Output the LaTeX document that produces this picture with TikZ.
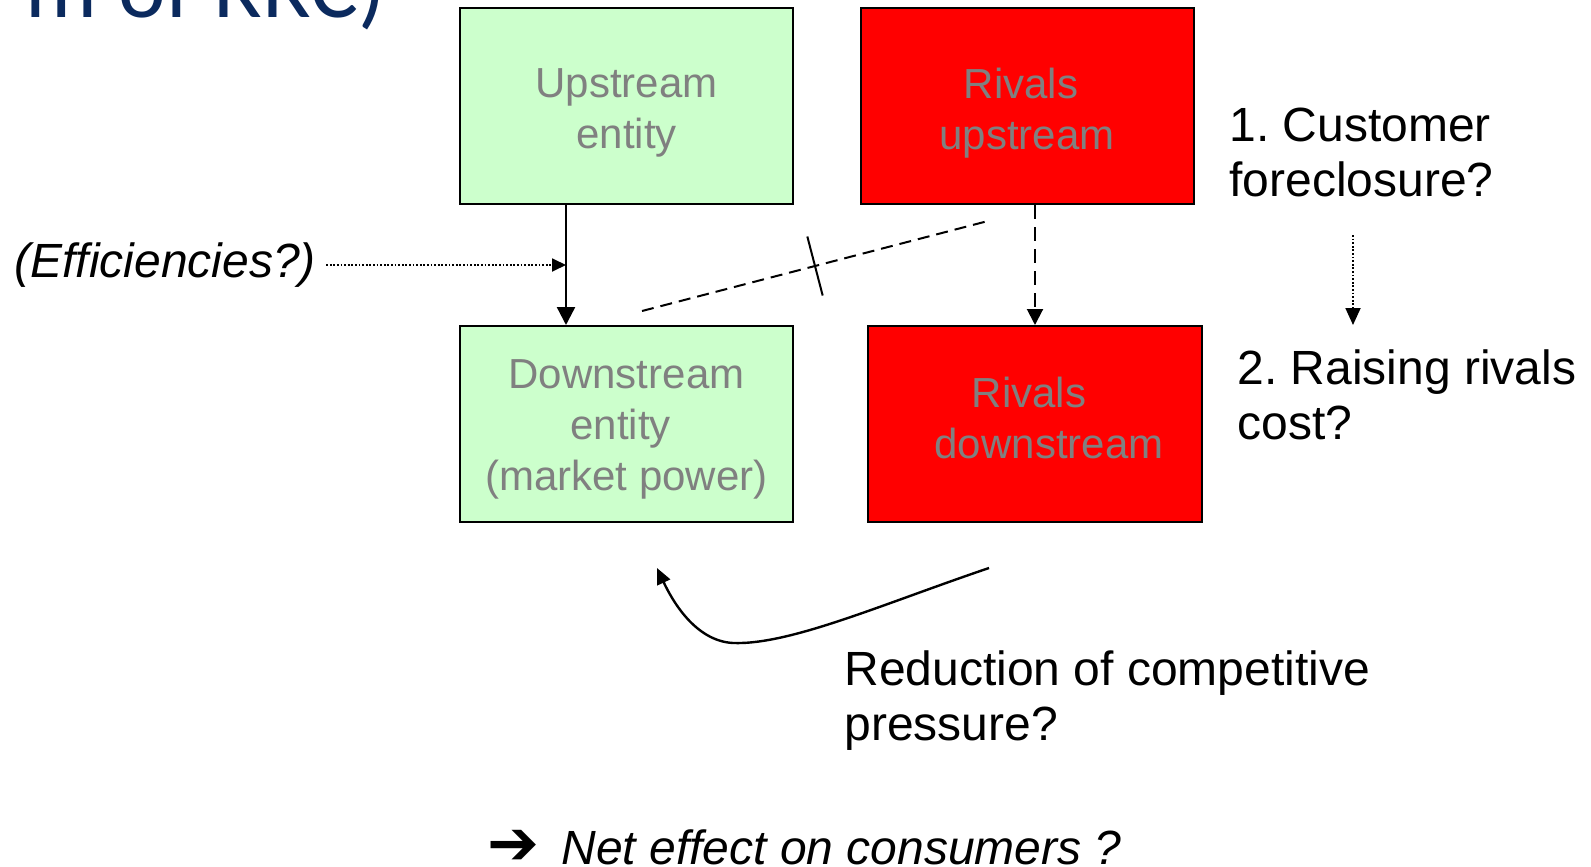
\documentclass[tikz,border=0pt]{standalone}
\usepackage{fontspec}
\setmainfont{Liberation Sans}
\newfontfamily\titlefont{Carlito}
\newfontfamily\symbolfont{DejaVu Sans}
\usetikzlibrary{arrows.meta,calc}
\frenchspacing
\definecolor{pale-green}{HTML}{CCFFCC}
\definecolor{rival-red}{HTML}{FF0000}
\definecolor{label-grey}{HTML}{808080}
\definecolor{title-blue}{HTML}{0B2A5E}
\newcommand{\padx}[1]{\rule{#1}{0pt}}
\tikzset{
    entity-box/.style = {draw=black, line width=1pt, rectangle, inner sep=0pt, minimum width=166.5pt, minimum height=98pt},
    green-box/.style = {entity-box, fill=pale-green},
    red-box/.style = {entity-box, fill=rival-red},
    box-text/.style = {text=label-grey, align=center, inner sep=0pt, font=\fontsize{21}{25.5}\selectfont},
    side-text/.style = {align=left, inner sep=0pt, font=\fontsize{24}{27.5}\selectfont},
    solid-link/.style = {line width=1.2pt, -{Triangle[width=9pt,length=9pt]}},
    dashed-link/.style = {line width=1pt, dash pattern=on 7pt off 4pt, -{Triangle[width=8pt,length=8pt]}},
    dotted-link/.style = {line width=0.9pt, dash pattern=on 0.9pt off 0.9pt, -{Triangle[width=6.5pt,length=7pt]}},
}

\begin{document}
\begin{tikzpicture}[x=0.5pt, y=-0.5pt]
\useasboundingbox (0,0) rectangle (1591,867);
% slide title, cut by the page edge
\node[anchor=base east, inner sep=0pt, text=title-blue, font=\titlefont\fontsize{45}{54}\selectfont] (title) at (386,18) {m of RRC)};

% the four firms
\node[green-box, label={[box-text, name=up-text, yshift=-3.5pt]center:Upstream\\entity}] (up) at (626.5,106) {};
\node[red-box, label={[box-text, name=rival-up-text, yshift=-3.5pt]center:Rivals\padx{6pt}\\upstream}] (rival-up) at (1027,106) {};
\node[green-box, label={[box-text, name=down-text, yshift=-2.75pt]center:Downstream\\entity\padx{6pt}\\(market power)}] (down) at (626.5,424) {};
\node[red-box, minimum width=167pt, label={[box-text, name=rival-down-text, yshift=3pt]center:Rivals\padx{6pt}\\\padx{14pt}downstream}] (rival-down) at (1035,424) {};

% efficiencies on the merged chain
\node[side-text, inner sep=5pt, anchor=west, font=\itshape\fontsize{24}{27.5}\selectfont] (eff) at (4,265) {(Efficiencies?)};
\coordinate (eff-in) at (566,265);
\draw[solid-link] (up.south -| eff-in) -- (down.north -| eff-in);
\draw[dotted-link] (eff) -- (eff-in);

% cut supply link
\coordinate (cut-a) at (642,311);
\coordinate (cut-b) at (988,221);
\draw[line width=1pt, dash pattern=on 6pt off 3.5pt] (cut-a) -- coordinate[midway] (cut-mid) (cut-b);
\draw[line width=1pt] ($(cut-mid)!15.25pt!90:(cut-b)$) -- ($(cut-mid)!15.25pt!-90:(cut-b)$);
\draw[dashed-link] (rival-up.south -| rival-down.north) -- (rival-down.north);

% the two steps
\node[side-text, anchor=north west] (foreclosure) at (1229,107.5) {1. Customer\\foreclosure?};
\node[side-text, anchor=north west] (raising) at (1237,349.5) {2. Raising rivals\\cost?};
\coordinate (step-a) at (1353,235);
\coordinate (step-b) at (1353,325);
\draw[dotted-link, -{Triangle[width=7.5pt,length=8.5pt]}] (step-a) -- (step-b);

% competitive pressure
\node[side-text, anchor=north west] (pressure) at (844,650) {Reduction of competitive\\pressure?};
\coordinate (press-a) at (989,568);
\coordinate (press-low) at (733,643);
\coordinate (press-b) at (657,568);
\draw[line width=1.2pt, -{Triangle[width=7pt,length=8pt]}] (press-a) .. controls (880,605) and (790,645) .. (press-low) .. controls (695,641) and (672,600) .. (press-b);

\node[anchor=base west, inner sep=0pt, font=\fontsize{24}{27.5}\selectfont] (net-effect) at (487,864) {{\symbolfont\fontsize{31}{31}\selectfont ➔}\hspace{11pt}\textit{Net effect on consumers ?}};
\end{tikzpicture}
\end{document}
